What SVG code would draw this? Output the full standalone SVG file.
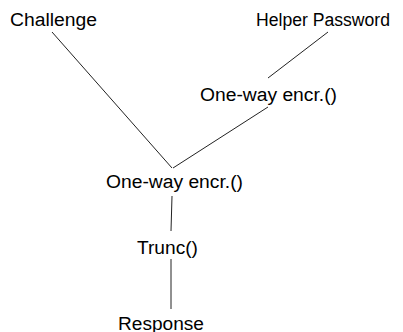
<svg xmlns="http://www.w3.org/2000/svg" width="403" height="332" viewBox="0 0 403 332">
<style>
.t{font-family:"Liberation Sans",Arial,sans-serif;font-size:18px;fill:#000}
.c line{stroke:#222;stroke-width:1;fill:none}
</style>
<rect width="403" height="332" fill="#fff"/>
<g class="c" id="connectors">
<line x1="52" y1="32" x2="172" y2="168"/>
<line x1="328" y1="32" x2="268" y2="78"/>
<line x1="268" y1="107" x2="173" y2="168"/>
<line x1="172" y1="196" x2="171" y2="231"/>
<line x1="171" y1="259" x2="171" y2="309"/>
</g>
<g id="challenge"><text class="t" x="10" y="26" textLength="87" lengthAdjust="spacingAndGlyphs">Challenge</text></g>
<g id="helper"><text class="t" x="256" y="26" textLength="134" lengthAdjust="spacingAndGlyphs">Helper Password</text></g>
<g id="enc1"><text class="t" x="200" y="101" textLength="137" lengthAdjust="spacingAndGlyphs">One-way encr.()</text></g>
<g id="enc2"><text class="t" x="106" y="188" textLength="137" lengthAdjust="spacingAndGlyphs">One-way encr.()</text></g>
<g id="trunc"><text class="t" x="137" y="254" textLength="61" lengthAdjust="spacingAndGlyphs">Trunc()</text></g>
<g id="response"><text class="t" x="118" y="330" textLength="86" lengthAdjust="spacingAndGlyphs">Response</text></g>
</svg>
